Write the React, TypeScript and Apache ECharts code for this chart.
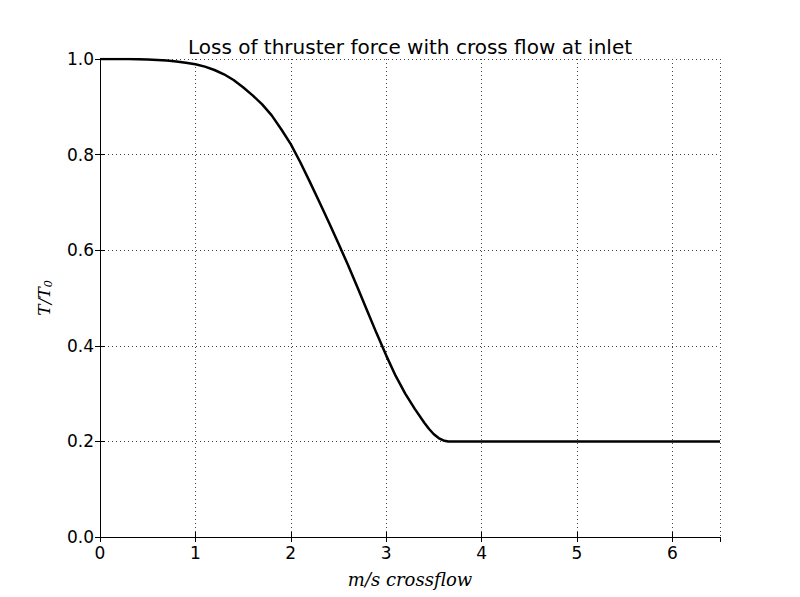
import React, { useEffect, useRef } from "react";
import * as echarts from "echarts";

const crossflow = [
  0, 0.1, 0.2, 0.3, 0.4, 0.5, 0.6, 0.7, 0.8, 0.9, 1.0, 1.1, 1.2, 1.3, 1.4, 1.5,
  1.6, 1.7, 1.8, 1.9, 2.0, 2.1, 2.2, 2.3, 2.4, 2.5, 2.6, 2.7, 2.8, 2.9, 3.0,
  3.1, 3.2, 3.3, 3.4, 3.45, 3.5, 3.55, 3.6, 3.65, 6.5,
];
const thrustRatio = [
  1.0, 1.0, 1.0, 1.0, 0.9995, 0.999, 0.998, 0.997, 0.995, 0.992, 0.989, 0.984,
  0.977, 0.968, 0.956, 0.941, 0.924, 0.905, 0.882, 0.853, 0.822, 0.784, 0.743,
  0.701, 0.658, 0.614, 0.569, 0.522, 0.474, 0.426, 0.38, 0.337, 0.3, 0.268,
  0.239, 0.226, 0.215, 0.207, 0.202, 0.2, 0.2,
];
const xTicks = [0, 1, 2, 3, 4, 5, 6];
const yTicks = [0.0, 0.2, 0.4, 0.6, 0.8, 1.0];
const titleText = "Loss of thruster force with cross flow at inlet";

export default function App() {
  const ref = useRef<HTMLDivElement>(null);
  useEffect(() => {
    if (!ref.current) return;
    const chart = echarts.init(ref.current, null, { renderer: "svg" });
    const font = "DejaVu Sans";
    const tickStyle = { show: true, inside: true, length: 5, lineStyle: { color: "#000", width: 1 } };
    const lineStyle = { show: true, lineStyle: { color: "#000", width: 1 } };
    const gridLine = { show: true, lineStyle: { color: "#444", width: 1, type: [1, 3] as any } };
    chart.setOption({
      animation: false,
      backgroundColor: "#fff",
      grid: { left: 100, right: 80, top: 59, bottom: 60, containLabel: false },
      graphic: [
        {
          type: "text",
          x: 410,
          y: 47,
          style: {
            text: titleText,
            fontFamily: font,
            fontSize: 20,
            fill: "#000",
            align: "center",
            verticalAlign: "middle",
          },
        },
      ],
      xAxis: [
        {
          type: "value",
          min: 0,
          max: 6.5,
          interval: 1,
          position: "bottom",
          axisLine: lineStyle,
          axisTick: tickStyle,
          splitLine: gridLine,
          axisLabel: {
            color: "#000",
            fontFamily: font,
            fontSize: 17,
            margin: 7,
            showMaxLabel: false,
            formatter: (v: number) => (xTicks.includes(v) ? String(v) : ""),
          },
          name: "m/s crossflow",
          nameLocation: "middle",
          nameGap: 33,
          nameTextStyle: { fontFamily: "DejaVu Serif", fontStyle: "italic", fontSize: 18, color: "#000" },
        },
        {
          type: "value",
          min: 0,
          max: 6.5,
          interval: 1,
          position: "top",
          axisLine: lineStyle,
          axisTick: tickStyle,
          splitLine: { show: false },
          axisLabel: { show: false },
        },
      ],
      yAxis: [
        {
          type: "value",
          min: 0,
          max: 1,
          interval: 0.2,
          position: "left",
          axisLine: lineStyle,
          axisTick: tickStyle,
          splitLine: gridLine,
          axisLabel: {
            color: "#000",
            fontFamily: font,
            fontSize: 17,
            margin: 6,
            formatter: (v: number) => {
              const t = yTicks.find((y) => Math.abs(y - v) < 1e-9);
              return t === undefined ? "" : t.toFixed(1);
            },
          },
          name: "{a|T/T}{b|0}",
          nameLocation: "middle",
          nameRotate: 90,
          nameGap: 46,
          nameTextStyle: {
            rich: {
              a: { fontFamily: "DejaVu Serif", fontStyle: "italic", fontSize: 17, color: "#000" },
              b: { fontFamily: "DejaVu Serif", fontStyle: "italic", fontSize: 11, color: "#000", padding: [9, 0, 0, 0] },
            },
          },
        },
        {
          type: "value",
          min: 0,
          max: 1,
          interval: 0.2,
          position: "right",
          axisLine: lineStyle,
          axisTick: tickStyle,
          splitLine: { show: false },
          axisLabel: { show: false },
        },
      ],
      series: [
        {
          type: "line",
          data: crossflow.map((x, i) => [x, thrustRatio[i]]),
          showSymbol: false,
          smooth: false,
          lineStyle: { color: "#000", width: 2.5 },
          clip: true,
        },
      ],
    });
    return () => chart.dispose();
  }, []);
  return (
    <div
      ref={ref}
      style={{ width: 800, height: 597, position: "fixed", left: 0, top: 0 }}
    />
  );
}
